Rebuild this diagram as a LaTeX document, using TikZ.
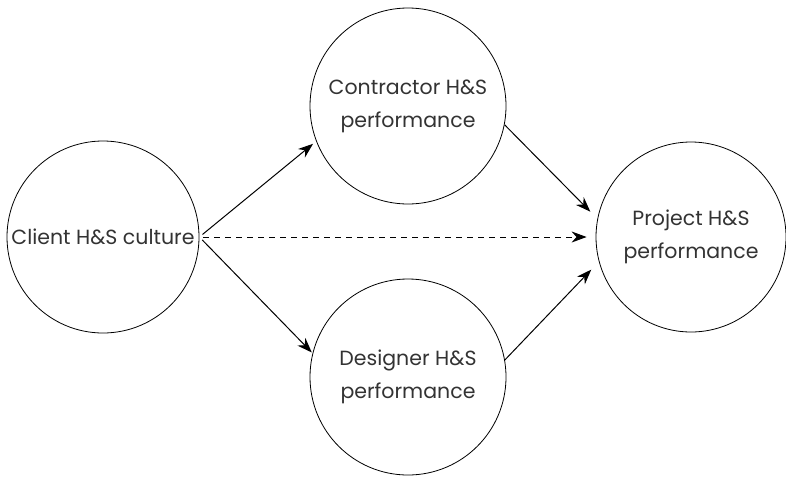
\documentclass[tikz,border=0pt]{standalone}
\usepackage{fontspec}
\setmainfont{Poppins}
\usetikzlibrary{arrows.meta}
\definecolor{txt}{HTML}{333333}
\tikzset{
  bubble/.style={circle,draw=black,line width=0.8pt,inner sep=0pt,align=center,text=txt,
    font=\fontsize{20.5}{33}\selectfont},
  link/.style={line width=1pt,-{Stealth[length=15pt,width=11pt]}},
}
\begin{document}
\begin{tikzpicture}[x=1pt,y=-1pt]
\useasboundingbox (0,0) rectangle (786,477);
\node[bubble,minimum size=192pt] (client) at (103,237) {Client H\&S culture};
\node[bubble,minimum size=196pt] (contractor) at (408,106) {Contractor H\&S\\performance};
\node[bubble,minimum size=196pt] (designer) at (408,377) {Designer H\&S\\performance};
\node[bubble,minimum size=190pt] (project) at (691,237) {Project H\&S\\performance};
\draw[link,shorten <=4pt,shorten >=4pt] (client.east) -- (contractor.201);
\draw[link,shorten <=4pt,shorten >=1pt] (client.east) -- (designer.166);
\draw[link,dashed,dash pattern=on 6pt off 5pt,shorten <=4pt,shorten >=9pt] (client.east) -- (project.180);
\draw[link,shorten >=10pt] (contractor.-11) -- (project.169);
\draw[link,shorten >=11pt] (designer.10) -- (project.195);
\end{tikzpicture}
\end{document}
